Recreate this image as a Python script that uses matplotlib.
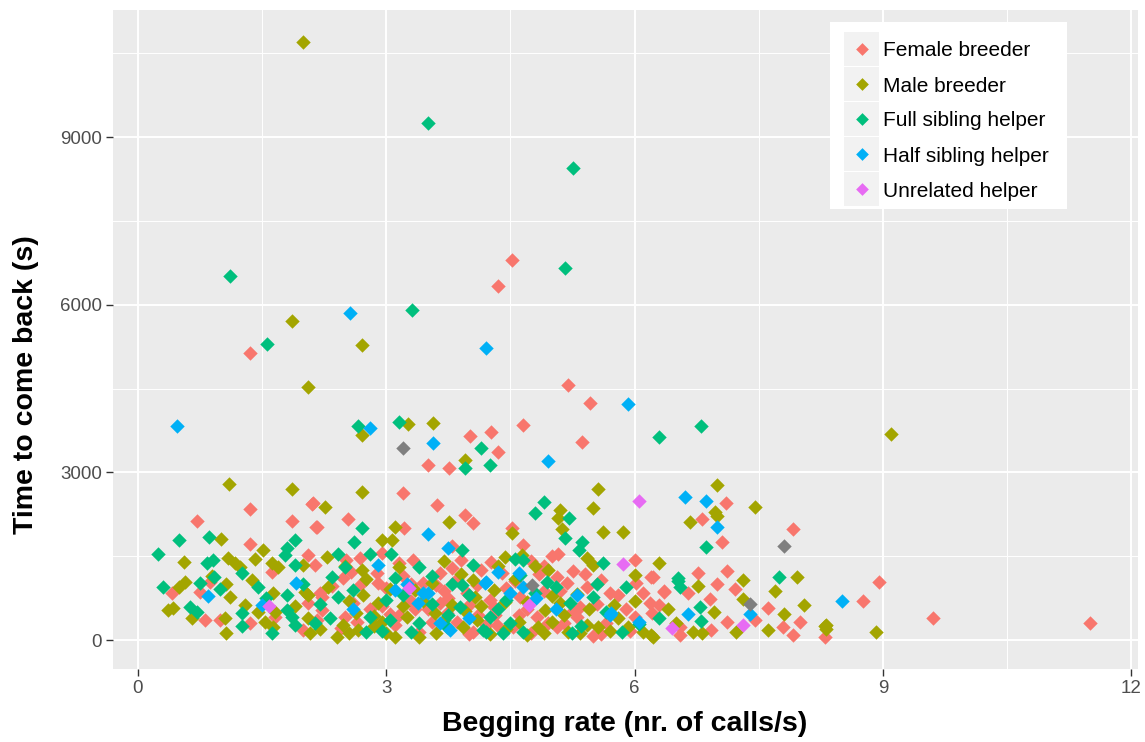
import matplotlib
matplotlib.use("Agg")
import matplotlib.pyplot as plt
from matplotlib.patches import Rectangle

plt.rcParams['font.family'] = ['Liberation Sans', 'DejaVu Sans']

# begging rate (calls/s) and time to come back (s), one pair of lists per group
female_x = [1.36, 4.52, 4.35, 4.65, 5.2, 5.46, 5.36, 4.01, 4.26, 4.35, 3.51, 3.76,
            2.1, 1.36, 0.71, 1.86, 2.15, 1.36, 2.05, 2.14, 1.62, 0.41, 0.87, 0.75, 2.05, 0.81, 0.99, 1.36, 1.66, 1.99,
            3.2, 2.54, 2.12, 2.16, 3.21, 3.61, 3.95, 4.05, 3.79,
            2.52, 2.68, 2.95, 3.16, 3.32, 2.89, 2.58, 2.48, 3.65, 3.79, 3.0, 2.6, 2.2, 3.65, 3.97, 3.73, 2.23, 2.5, 3.16, 4.11, 2.16, 2.23,
            4.52, 4.65, 5.0, 5.07, 4.26, 6.0, 6.2, 6.36, 5.06, 5.18, 5.42, 5.7, 5.8, 6.02, 6.1, 6.18, 4.61, 4.25, 4.31, 5.34, 5.3, 6.21, 5.06, 4.53, 4.34, 4.82,
            7.1, 6.81, 7.91, 7.05, 6.22, 6.76, 7.11, 6.35, 7.0, 7.21, 6.64, 6.91, 7.61, 7.46, 7.11, 8.0, 6.55, 7.79, 6.92, 7.91, 8.3, 6.55,
            11.5, 9.6, 8.95, 8.76,
            3.3, 3.5, 3.85, 4.0, 4.2, 4.45, 4.7, 4.9, 5.15, 5.55, 5.9, 3.1, 2.8, 3.4, 4.05, 4.75, 5.6, 3.7, 4.9, 4.4, 5.25, 5.6, 3.45, 2.9, 2.35,
            2.7, 2.95, 3.2, 3.35, 3.55, 3.75, 3.9, 4.1, 4.3, 4.55, 4.6, 4.85, 4.95, 5.1, 5.25, 5.4, 5.5, 5.65, 6.0, 6.3,
            2.45, 2.65, 3.05, 3.3, 3.6, 4.15, 4.75, 5.95, 4.0, 3.85]
female_y = [5140, 6800, 6340, 3850, 4560, 4240, 3545, 3650, 3720, 3365, 3130, 3080,
            2430, 2340, 2130, 2130, 2020, 1720, 1520, 1340, 1220, 840, 1040, 860, 660, 360, 360, 300, 410, 180,
            2630, 2170, 2450, 2020, 2000, 2420, 2240, 2090, 1680,
            1430, 1470, 1560, 1380, 1430, 1200, 1220, 1110, 1200, 1290, 930, 660, 840, 660, 840, 480, 540, 410, 450, 450, 360, 770,
            2000, 1700, 1500, 1540, 1400, 1430, 1130, 860, 1130, 1020, 950, 840, 800, 1020, 840, 660, 770, 720, 450, 590, 410, 480, 230, 230, 270, 410,
            2450, 2160, 1990, 1750, 1130, 1200, 1240, 880, 1000, 910, 840, 730, 570, 360, 320, 320, 235, 235, 180, 90, 55, 90,
            300, 390, 1040, 700,
            700, 560, 330, 620, 260, 930, 560, 870, 300, 640, 560, 270, 560, 150, 150, 120, 110, 870, 1320, 1200, 1240, 1080, 1020, 1020, 960,
            1000, 600, 1150, 550, 320, 760, 1430, 980, 590, 1060, 450, 1180, 300, 880, 520, 1180, 80, 300, 420, 620,
            210, 320, 460, 1000, 990, 1250, 1410, 170, 100, 1100]

male_x = [2.0, 1.86, 2.71, 2.05, 2.71, 3.26, 3.56, 3.95, 9.1,
          1.1, 1.86, 1.01, 1.51, 0.56, 1.09, 1.17, 1.23, 1.41, 1.62, 1.69, 1.99, 1.38, 0.5, 0.57, 1.06, 1.11, 2.02, 2.05,
          0.42, 0.36, 0.65, 1.05, 1.06, 1.45, 1.53, 1.66, 1.63, 1.63, 2.05, 2.08,
          2.71, 2.26, 3.1, 2.95, 3.07, 3.76, 2.29, 2.71, 3.55, 4.05, 2.72, 2.9, 4.07, 3.59, 2.64, 2.66, 2.95, 3.1, 3.4, 3.93, 2.4, 2.48,
          5.56, 5.5, 5.1, 5.08, 5.12, 5.62, 5.86, 5.42, 6.3, 6.01, 4.44, 4.8, 4.95, 4.64, 5.5, 4.43, 5.1, 4.92, 5.8, 5.92, 6.1, 6.22,
          5.56, 5.42, 5.34, 5.0, 4.83, 4.52,
          7.0, 7.46, 6.97, 7.0, 6.67, 7.31, 7.96, 6.76, 7.7, 7.31, 8.05, 6.4, 6.96, 7.8, 8.3, 6.7, 6.81, 7.23, 7.61, 6.2,
          8.91, 8.31, 8.31,
          3.0, 3.25, 3.6, 3.8, 4.1, 4.25, 4.6, 4.7, 5.2, 5.3, 5.75, 3.35, 2.55, 2.2, 2.85, 3.7, 4.3, 5.0, 1.3, 0.9, 1.9, 6.5, 2.5, 3.9,
          2.3, 2.55, 2.75, 3.05, 3.2, 3.45, 3.7, 3.95, 4.15, 4.45, 4.55, 4.7, 4.9, 5.15, 5.45, 5.7, 6.0, 4.35, 3.15, 2.85]
male_y = [10700, 5710, 5280, 4530, 3670, 3860, 3890, 3220, 3690,
          2790, 2700, 1800, 1610, 1400, 1470, 1370, 1310, 1450, 1380, 1310, 1340, 1070, 950, 1040, 1000, 770, 860, 800,
          570, 540, 390, 390, 125, 500, 320, 500, 840, 230, 390, 125,
          2650, 2380, 2020, 1790, 1790, 2110, 1490, 1250, 1020, 1070, 800, 660, 770, 480, 480, 180, 320, 55, 55, 230, 55, 270,
          2700, 2360, 2330, 2180, 1990, 1930, 1930, 1470, 1380, 1160, 1480, 1320, 1250, 1520, 1340, 680, 660, 540, 390, 230, 145, 55,
          230, 270, 125, 320, 230, 1910,
          2770, 2380, 2290, 2220, 2110, 1070, 1130, 970, 880, 730, 630, 550, 500, 460, 250, 145, 125, 145, 180, 90,
          140, 270, 200,
          130, 420, 130, 620, 360, 100, 320, 90, 150, 820, 620, 900, 700, 200, 430, 1420, 900, 780, 620, 1150, 600, 300, 1330, 1180,
          950, 120, 1100, 920, 600, 700, 360, 520, 600, 200, 1100, 680, 120, 450, 560, 170, 700, 1320, 1300, 250]

full_x = [3.51, 5.25, 1.11, 5.16, 1.56, 3.31, 2.66, 3.16, 4.15, 4.25, 3.95, 6.3, 6.8,
          0.5, 0.86, 1.9, 1.8, 1.78, 0.24, 0.83, 0.91, 1.26, 1.9, 1.45, 0.3, 0.75, 0.92, 0.99, 1.8, 0.63, 0.71, 1.26, 1.26, 1.62,
          1.8, 1.86, 1.9, 2.14,
          2.71, 2.61, 3.06, 3.91, 2.42, 2.8, 3.4, 2.34, 3.1, 3.91, 2.42, 3.0, 3.89, 2.8, 2.32, 3.4, 3.73, 4.17,
          4.9, 4.8, 5.21, 5.16, 5.36, 5.33, 5.62, 4.55, 4.65, 4.94, 4.61, 5.5, 5.22, 5.85, 5.24, 4.65, 4.41, 4.21,
          6.86, 6.52, 7.75, 6.79, 6.3, 6.8, 6.52, 6.55,
          3.2, 3.55, 2.6, 4.35, 4.8, 5.65, 6.05, 2.95, 3.8, 4.5, 2.0, 5.9,
          2.5, 2.75, 3.05, 3.3, 3.55, 3.75, 4.0, 4.25, 4.45, 5.05, 5.35, 5.55, 4.05, 2.2, 1.55]
full_y = [9250, 8450, 6520, 6660, 5300, 5910, 3830, 3900, 3440, 3130, 3080, 3630, 3830,
          1790, 1850, 1790, 1640, 1520, 1540, 1370, 1430, 1200, 1340, 950, 950, 1020, 1130, 910, 800, 590, 500, 480, 250, 125,
          540, 410, 270, 300,
          2000, 1750, 1540, 1610, 1540, 1540, 1310, 1130, 1110, 980, 770, 720, 590, 410, 390, 300, 230, 180,
          2470, 2270, 2180, 1830, 1750, 1610, 1380, 1450, 1430, 1040, 1160, 770, 660, 145, 125, 145, 125, 145,
          1660, 1060, 1130, 590, 390, 340, 1110, 950,
          800, 650, 900, 560, 850, 500, 280, 160, 1000, 300, 1000, 950,
          1300, 150, 350, 150, 1150, 450, 800, 420, 720, 950, 250, 1000, 1350, 650, 750]

half_x = [0.47, 2.56, 4.2, 5.92, 2.81, 3.56, 4.95, 6.61, 6.86, 7.0, 3.51, 3.75,
          0.85, 1.91, 1.5, 3.1, 3.44, 3.38, 4.19, 3.77, 4.35, 4.21, 3.51, 4.81, 4.5, 5.05, 5.7, 6.65, 7.39, 8.51, 5.72,
          2.6, 4.0, 4.65, 3.25, 6.05, 2.9, 3.65, 4.6, 5.3]
half_y = [3830, 5850, 5230, 4220, 3800, 3520, 3200, 2560, 2490, 2020, 1900, 1650,
          790, 1020, 630, 890, 840, 660, 1020, 180, 1220, 1040, 840, 750, 840, 550, 450, 470, 460, 700, 480,
          560, 400, 950, 1000, 330, 1350, 300, 1200, 800]

unrel_x = [6.05, 5.86, 1.58, 3.28, 4.73, 7.31, 6.45]
unrel_y = [2490, 1360, 610, 930, 630, 270, 220]

na_x = [3.2, 4.76, 7.8, 7.39]
na_y = [3440, 980, 1680, 640]

labels = ["Female breeder", "Male breeder", "Full sibling helper", "Half sibling helper", "Unrelated helper"]
colors = ["#F8766D", "#A3A500", "#00BF7D", "#00B0F6", "#E76BF3"]
na_color = "#7F7F7F"

W, H = 1145, 742
fig = plt.figure(figsize=(W / 100, H / 100), dpi=100)
ax = fig.add_axes([113 / W, 1 - 669 / H, (1138 - 113) / W, (669 - 10) / H])
ax.set_facecolor("#EBEBEB")

groups = [(female_x, female_y), (male_x, male_y), (full_x, full_y),
          (half_x, half_y), (unrel_x, unrel_y)]
for (gx, gy), c in zip(groups, colors):
    ax.scatter(gx, gy, marker="D", s=54, color=c, linewidths=0, zorder=3)
ax.scatter(na_x, na_y, marker="D", s=54, color=na_color, linewidths=0, zorder=3)

ax.set_xlim(-0.3, 12.08)
ax.set_ylim(-519, 11277)
ax.set_xticks([0, 3, 6, 9, 12])
ax.set_yticks([0, 3000, 6000, 9000])
ax.set_xticks([1.5, 4.5, 7.5, 10.5], minor=True)
ax.set_yticks([1500, 4500, 7500, 10500], minor=True)
ax.grid(which="major", color="white", linewidth=1.4, zorder=0)
ax.grid(which="minor", color="white", linewidth=0.7, zorder=0)
ax.set_axisbelow(True)
for s in ax.spines.values():
    s.set_visible(False)
ax.tick_params(which="major", length=5, width=1, color="#333333",
               labelsize=13.5, labelcolor="#4D4D4D", pad=3)
ax.tick_params(which="minor", length=0)

fig.text(625 / W, 1 - 724 / H, "Begging rate (nr. of calls/s)", fontsize=20.5,
         fontweight="bold", ha="center", va="center")
fig.text(26 / W, 1 - 385 / H, "Time to come back (s)", fontsize=20.5,
         fontweight="bold", ha="center", va="center", rotation=90)

# legend box drawn in pixel units
lg = fig.add_axes([830 / W, 1 - 209 / H, 237 / W, 187 / H])
lg.set_xlim(0, 237)
lg.set_ylim(187, 0)
lg.set_facecolor("white")
lg.set_xticks([])
lg.set_yticks([])
for s in lg.spines.values():
    s.set_visible(False)
for i, (lab, c) in enumerate(zip(labels, colors)):
    top = 10 + i * 35
    lg.add_patch(Rectangle((14, top), 35, 34, facecolor="#F2F2F2", edgecolor="none"))
    lg.scatter([31.5], [top + 17], marker="D", s=42, color=c, linewidths=0)
    lg.text(53, top + 19, lab, fontsize=15, va="center", ha="left", color="black")

fig.savefig("out.png", dpi=100)
